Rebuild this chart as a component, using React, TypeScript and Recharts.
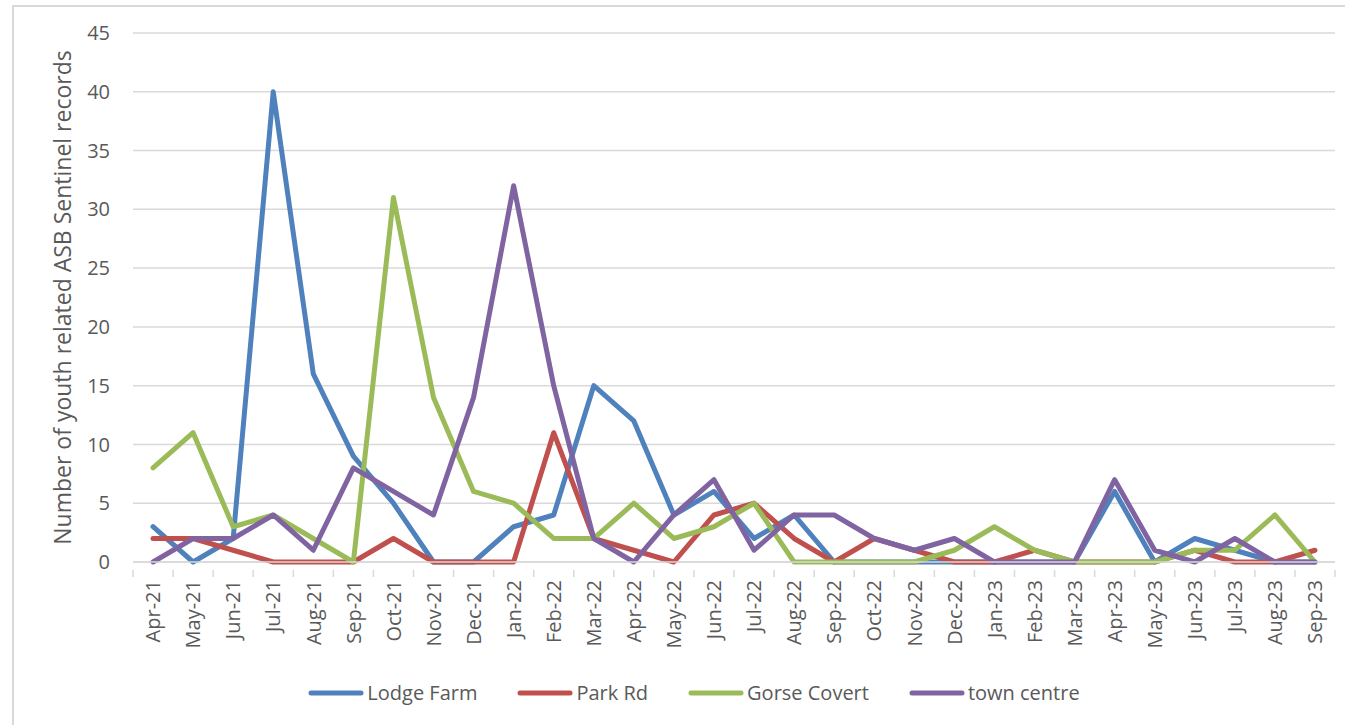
import React from "react";
import { LineChart, Line, XAxis, YAxis, CartesianGrid, Legend } from "recharts";

const months = [
  "Apr-21", "May-21", "Jun-21", "Jul-21", "Aug-21", "Sep-21", "Oct-21", "Nov-21", "Dec-21", "Jan-22",
  "Feb-22", "Mar-22", "Apr-22", "May-22", "Jun-22", "Jul-22", "Aug-22", "Sep-22", "Oct-22", "Nov-22",
  "Dec-22", "Jan-23", "Feb-23", "Mar-23", "Apr-23", "May-23", "Jun-23", "Jul-23", "Aug-23", "Sep-23",
];

const lodgeFarm = [3, 0, 2, 40, 16, 9, 5, 0, 0, 3, 4, 15, 12, 4, 6, 2, 4, 0, 0, 0, 0, 0, 0, 0, 6, 0, 2, 1, 0, 0];
const parkRd = [2, 2, 1, 0, 0, 0, 2, 0, 0, 0, 11, 2, 1, 0, 4, 5, 2, 0, 2, 1, 0, 0, 1, 0, 0, 0, 1, 0, 0, 1];
const gorseCovert = [8, 11, 3, 4, 2, 0, 31, 14, 6, 5, 2, 2, 5, 2, 3, 5, 0, 0, 0, 0, 1, 3, 1, 0, 0, 0, 1, 1, 4, 0];
const townCentre = [0, 2, 2, 4, 1, 8, 6, 4, 14, 32, 15, 2, 0, 4, 7, 1, 4, 4, 2, 1, 2, 0, 0, 0, 7, 1, 0, 2, 0, 0];

const yTicks = [0, 5, 10, 15, 20, 25, 30, 35, 40, 45];

const series = [
  { key: "lodgeFarm", name: "Lodge Farm", color: "#4F81BD" },
  { key: "parkRd", name: "Park Rd", color: "#C0504D" },
  { key: "gorseCovert", name: "Gorse Covert", color: "#9BBB59" },
  { key: "townCentre", name: "town centre", color: "#8064A2" },
];

const data = months.map((m, i) => ({
  month: m,
  lodgeFarm: lodgeFarm[i],
  parkRd: parkRd[i],
  gorseCovert: gorseCovert[i],
  townCentre: townCentre[i],
}));

const FONT = "'Open Sans', 'Noto Sans', sans-serif";
const TEXT = "#595959";
const GRID = "#D9D9D9";

function MonthTick(props: any) {
  const { x, y, payload, index } = props;
  const half = 20;
  return (
    <g transform={`translate(${x},${y})`}>
      <line x1={-half} y1={0} x2={-half} y2={7} stroke={GRID} strokeWidth={1.5} />
      {index === months.length - 1 && (
        <line x1={half} y1={0} x2={half} y2={7} stroke={GRID} strokeWidth={1.5} />
      )}
      <text
        transform="rotate(-90)"
        x={-10}
        y={0}
        dy="0.36em"
        textAnchor="end"
        fill={TEXT}
        fontSize={20}
        fontFamily={FONT}
      >
        {payload.value}
      </text>
    </g>
  );
}

function LegendContent() {
  return (
    <div
      style={{
        display: "flex",
        justifyContent: "center",
        alignItems: "center",
        paddingLeft: 43,
        fontFamily: FONT,
        fontSize: 20,
        color: TEXT,
      }}
    >
      {series.map((s) => (
        <div key={s.key} style={{ display: "flex", alignItems: "center", margin: "0 20px" }}>
          <svg width={56} height={8}>
            <line x1={3} y1={4} x2={53} y2={4} stroke={s.color} strokeWidth={5} strokeLinecap="round" />
          </svg>
          <span style={{ marginLeft: 3 }}>{s.name}</span>
        </div>
      ))}
    </div>
  );
}

function YLabel(props: any) {
  const { viewBox } = props;
  const cx = viewBox.x + 62;
  const cy = viewBox.y + viewBox.height / 2;
  return (
    <text
      x={cx}
      y={cy}
      transform={`rotate(-90 ${cx} ${cy})`}
      textAnchor="middle"
      dominantBaseline="central"
      fill={TEXT}
      fontSize={23}
      fontFamily={FONT}
    >
      Number of youth related ASB Sentinel records
    </text>
  );
}

export default function App() {
  return (
    <div style={{ position: "absolute", left: 0, top: 0, width: 1345, height: 725, background: "#fff", overflow: "hidden" }}>
      <div
        style={{
          position: "absolute",
          left: 12,
          top: 5,
          width: 1400,
          height: 800,
          border: `2px solid ${GRID}`,
          boxSizing: "border-box",
        }}
      />
      <LineChart
        width={1345}
        height={725}
        data={data}
        margin={{ top: 33, right: 10, left: 0, bottom: 16 }}
      >
        <CartesianGrid vertical={false} stroke={GRID} strokeWidth={1.5} />
        <XAxis
          dataKey="month"
          scale="band"
          interval={0}
          height={117}
          axisLine={{ stroke: GRID, strokeWidth: 1.5 }}
          tickLine={false}
          tick={<MonthTick />}
        />
        <YAxis
          width={133}
          domain={[0, 45]}
          ticks={yTicks}
          interval={0}
          axisLine={false}
          tickLine={false}
          tickMargin={17}
          tick={{ fill: TEXT, fontSize: 20, fontFamily: FONT }}
          label={<YLabel />}
        />
        <Legend verticalAlign="bottom" height={30} content={<LegendContent />} wrapperStyle={{ left: 0, width: 1345 }} />
        {series.map((s) => (
          <Line
            key={s.key}
            type="linear"
            dataKey={s.key}
            name={s.name}
            stroke={s.color}
            strokeWidth={5}
            strokeLinejoin="round"
            strokeLinecap="round"
            dot={false}
            activeDot={false}
            isAnimationActive={false}
          />
        ))}
      </LineChart>
    </div>
  );
}
